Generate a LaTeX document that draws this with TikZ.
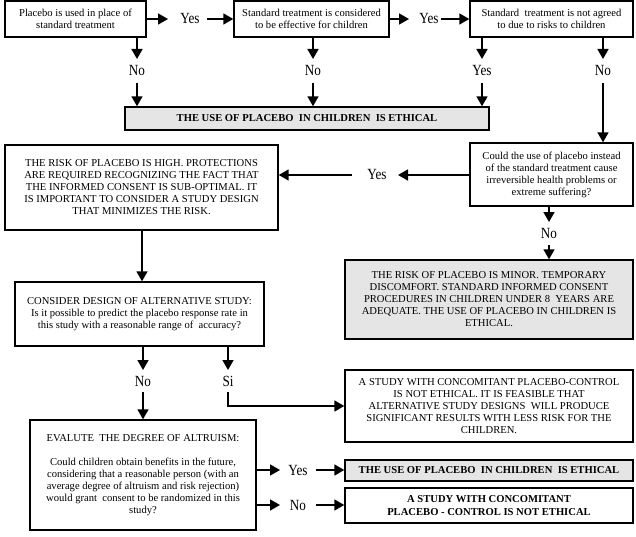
\documentclass[tikz,border=0pt]{standalone}
\usepackage{fontspec}
\setmainfont{Liberation Serif}
\newfontfamily\labfont[FakeStretch=0.85]{Liberation Serif}
\usetikzlibrary{arrows.meta,shadows}
\begin{document}
\begin{tikzpicture}[x=1pt,y=-1pt,
  box/.style={draw=black, line width=1.4pt, fill=white, align=center, inner sep=1pt,
    font=\fontsize{10.6}{12}\selectfont,
    drop shadow={shadow xshift=1pt,shadow yshift=-1pt,fill=black,opacity=1}},
  gbox/.style={box, fill=black!10},
  bold/.style={font=\bfseries\fontsize{10.6}{12.5}\selectfont},
  arr/.style={line width=1.7pt, -{Triangle[width=11pt,length=10pt]}},
  lab/.style={font=\labfont\fontsize{15.5}{15.5}\selectfont, inner sep=0pt}]
\useasboundingbox (0,0) rectangle (636,537);

% boxes
\node[box, minimum width=141, minimum height=36] (b1) at (75.5,19) {Placebo is used in place of\\standard treatment};
\node[box, minimum width=155, minimum height=36] (b2) at (311.5,19) {Standard treatment is considered\\to be effective for children};
\node[box, minimum width=163, minimum height=36] (b3) at (551.5,19) {Standard\ \ treatment is not agreed\\to due to risks to children};
\node[gbox, bold, minimum width=364, minimum height=23] (g1) at (307,118.5) {THE USE OF PLACEBO\ \ IN CHILDREN\ \ IS ETHICAL};
\node[box, minimum width=163, minimum height=63] (q) at (551.5,174.5) {Could the use of placebo instead\\of the standard treatment cause\\irreversible health problems or\\extreme suffering?};
\node[box, minimum width=273, minimum height=85] (rh) at (141.5,187.5) {THE RISK OF PLACEBO IS HIGH. PROTECTIONS\\ARE REQUIRED RECOGNIZING THE FACT THAT\\THE INFORMED CONSENT IS SUB-OPTIMAL. IT\\IS IMPORTANT TO CONSIDER A STUDY DESIGN\\THAT MINIMIZES THE RISK.};
\node[gbox, minimum width=288, minimum height=79] (rm) at (489,299.5) {THE RISK OF PLACEBO IS MINOR. TEMPORARY\\DISCOMFORT. STANDARD INFORMED CONSENT\\PROCEDURES IN CHILDREN UNDER 8\ \ YEARS ARE\\ADEQUATE. THE USE OF PLACEBO IN CHILDREN IS\\ETHICAL.};
\node[box, minimum width=249, minimum height=64] (cd) at (139.5,314) {CONSIDER DESIGN OF ALTERNATIVE STUDY:\\Is it possible to predict the placebo response rate in\\this study with a reasonable range of\ \ accuracy?};
\node[box, minimum width=288, minimum height=72] (cc) at (489,406) {A STUDY WITH CONCOMITANT PLACEBO-CONTROL\\IS NOT ETHICAL. IT IS FEASIBLE THAT\\ALTERNATIVE STUDY DESIGNS\ \ WILL PRODUCE\\SIGNIFICANT RESULTS WITH LESS RISK FOR THE\\CHILDREN.};
\node[box, minimum width=226, minimum height=110] (ev) at (143,475) {EVALUTE\ \ THE DEGREE OF ALTRUISM:\\[12pt]Could children obtain benefits in the future,\\considering that a reasonable person (with an\\average degree of altruism and risk rejection)\\would grant\ \ consent to be randomized in this\\study?};
\node[gbox, bold, minimum width=288, minimum height=21] (g2) at (489,470.5) {THE USE OF PLACEBO\ \ IN CHILDREN\ \ IS ETHICAL};
\node[box, bold, minimum width=288, minimum height=35] (ne) at (489,505.5) {A STUDY WITH CONCOMITANT\\PLACEBO - CONTROL IS NOT ETHICAL};

% labels
\node[lab] (y1) at (190,19) {Yes};
\node[lab] (y2) at (429,19) {Yes};
\node[lab] (n1) at (137,71) {No};
\node[lab] (n2) at (313,71) {No};
\node[lab] (y3) at (482,71) {Yes};
\node[lab] (n4) at (603,71) {No};
\node[lab] (yq) at (377,175) {Yes};
\node[lab] (nq) at (549,234) {No};
\node[lab] (nc) at (143,381) {No};
\node[lab] (sc) at (228,381) {Si};
\node[lab] (ye) at (298,470) {Yes};
\node[lab] (ne2) at (298,505) {No};

% coordinates
\coordinate (a1) at (168,19);
\coordinate (a2) at (207,19);
\coordinate (a3) at (409,19);
\coordinate (a4) at (441,19);
\coordinate (d1b) at (137,59); \coordinate (d1c) at (137,83);
\coordinate (d2b) at (313,59); \coordinate (d2c) at (313,83);
\coordinate (d3b) at (482,59); \coordinate (d3c) at (482,83);
\coordinate (d4b) at (603,59); \coordinate (d4c) at (603,83);
\coordinate (qa) at (398,175); \coordinate (qb) at (352,175);
\coordinate (qd1) at (549,222); \coordinate (qd2) at (549,245);
\coordinate (c1) at (142,250);
\coordinate (cn1) at (143,370); \coordinate (cn2) at (143,392);
\coordinate (cs1) at (228,370); \coordinate (cs2) at (228,392);
\coordinate (ey1) at (280,470); \coordinate (ey2) at (316,470);
\coordinate (en1) at (280,505); \coordinate (en2) at (316,505);

% connectors
\draw[arr] (b1.east) -- (a1);
\draw[arr] (a2) -- (b2.west);
\draw[arr] (b2.east) -- (a3);
\draw[arr] (a4) -- (b3.west);
\draw[arr] (b1.south -| d1b) -- (d1b);
\draw[arr] (d1c) -- (d1c |- g1.north);
\draw[arr] (b2.south -| d2b) -- (d2b);
\draw[arr] (d2c) -- (d2c |- g1.north);
\draw[arr] (b3.south -| d3b) -- (d3b);
\draw[arr] (d3c) -- (d3c |- g1.north);
\draw[arr] (b3.south -| d4b) -- (d4b);
\draw[arr] (d4c) -- (d4c |- q.north);
\draw[arr] (q.west |- qa) -- (qa);
\draw[arr] (qb) -- (qb -| rh.east);
\draw[arr] (q.south -| qd1) -- (qd1);
\draw[arr] (qd2) -- (qd2 |- rm.north);
\draw[arr] (rh.south -| c1) -- (c1 |- cd.north);
\draw[arr] (cd.south -| cn1) -- (cn1);
\draw[arr] (cn2) -- (cn2 |- ev.north);
\draw[arr] (cd.south -| cs1) -- (cs1);
\draw[arr] (cs2) |- (cc.west);
\draw[arr] (ev.east |- ey1) -- (ey1);
\draw[arr] (ey2) -- (ey2 -| g2.west);
\draw[arr] (ev.east |- en1) -- (en1);
\draw[arr] (en2) -- (en2 -| ne.west);
\end{tikzpicture}
\end{document}
